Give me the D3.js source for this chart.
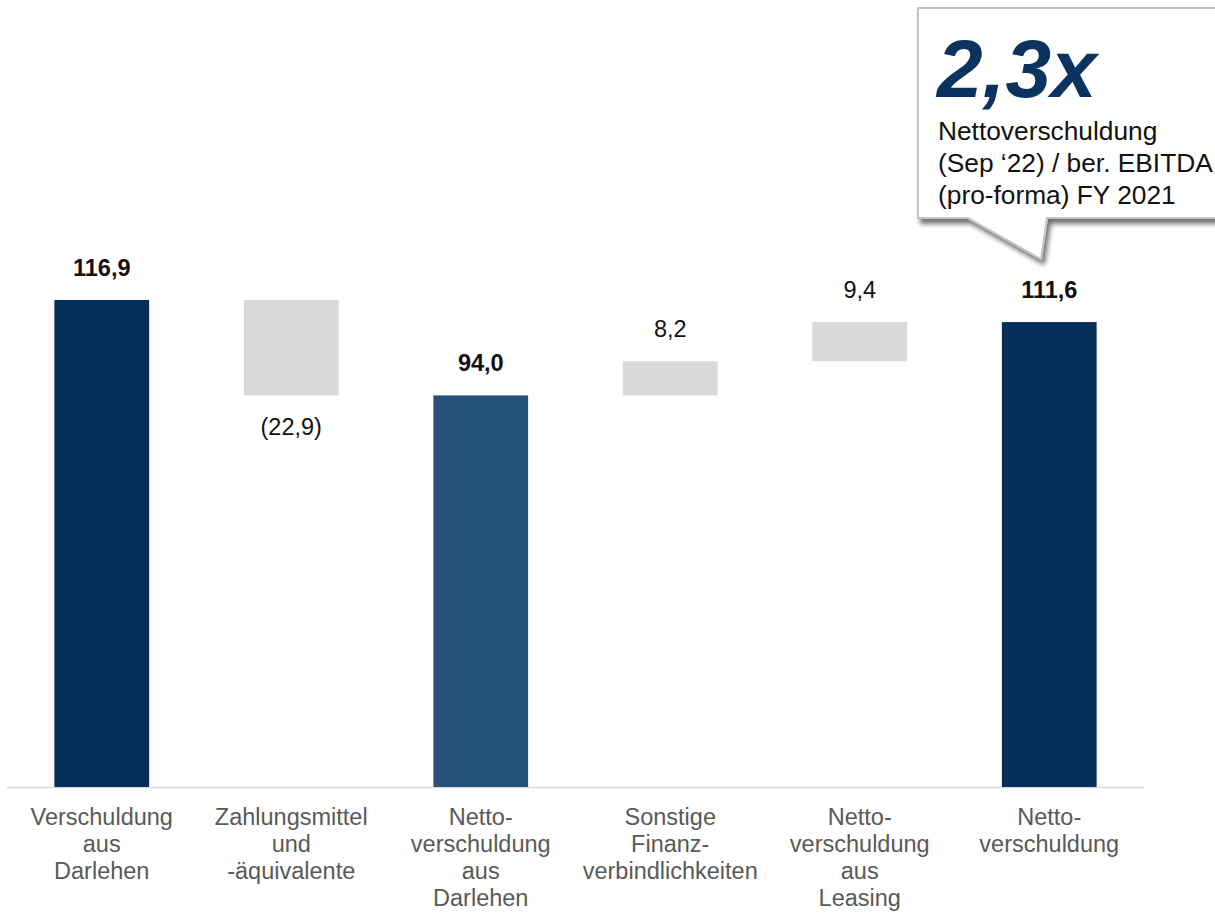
<!DOCTYPE html>
<html>
<head>
<meta charset="utf-8">
<script src="https://cdn.jsdelivr.net/npm/d3@7"></script>
<style>
  html, body { margin: 0; padding: 0; background: #fff; }
  svg { display: block; font-family: "Liberation Sans", Arial, sans-serif; }
</style>
</head>
<body>
<div id="chart"></div>
<script>
// data
const categories = [
  ["Verschuldung", "aus", "Darlehen"],
  ["Zahlungsmittel", "und", "-äquivalente"],
  ["Netto-", "verschuldung", "aus", "Darlehen"],
  ["Sonstige", "Finanz-", "verbindlichkeiten"],
  ["Netto-", "verschuldung", "aus", "Leasing"],
  ["Netto-", "verschuldung"]
];
const values = [116.9, -22.9, 94.0, 8.2, 9.4, 111.6];
const kinds = ["total", "delta", "total", "delta", "delta", "total"];
const valueLabels = ["116,9", "(22,9)", "94,0", "8,2", "9,4", "111,6"];
const calloutBig = "2,3x";
const calloutLines = ["Nettoverschuldung", "(Sep ‘22) / ber. EBITDA", "(pro-forma) FY 2021"];

(() => {
  const W = 1215, H = 916;
  const baseY = 787;
  const svg = d3.select("#chart").append("svg").attr("width", W).attr("height", H);

  const x = d3.scaleBand().domain(d3.range(categories.length)).range([7, 1144])
    .paddingInner(0.5).paddingOuter(0.25);
  const y = d3.scaleLinear().domain([0, 116.9]).range([baseY, 300]);

  // build waterfall segments
  let running = 0;
  const bars = values.map((v, i) => {
    let lo, hi;
    if (kinds[i] === "total") { lo = 0; hi = v; running = v; }
    else { lo = Math.min(running, running + v); hi = Math.max(running, running + v); running += v; }
    return { i, v, lo, hi, kind: kinds[i], label: valueLabels[i] };
  });
  const colors = ["#052f5a", "#d9d9d9", "#27537a", "#d9d9d9", "#d9d9d9", "#052f5a"];

  // baseline
  svg.append("line")
    .attr("x1", 7).attr("x2", 1144).attr("y1", baseY + 0.5).attr("y2", baseY + 0.5)
    .attr("stroke", "#d9d9d9").attr("stroke-width", 1.5);

  svg.append("g").selectAll("rect")
    .data(bars)
    .join("rect")
    .attr("x", d => x(d.i))
    .attr("width", x.bandwidth())
    .attr("y", d => y(d.hi))
    .attr("height", d => y(d.lo) - y(d.hi))
    .attr("fill", d => colors[d.i]);

  // value labels
  svg.append("g").selectAll("text")
    .data(bars)
    .join("text")
    .attr("x", d => x(d.i) + x.bandwidth() / 2)
    .attr("y", d => d.v < 0 ? y(d.lo) + 40 : y(d.hi) - 24)
    .attr("text-anchor", "middle")
    .attr("font-size", 23.5)
    .attr("font-weight", d => d.kind === "total" ? "bold" : "normal")
    .attr("fill", "#111")
    .text(d => d.label);

  // category labels
  const cat = svg.append("g").selectAll("text")
    .data(categories)
    .join("text")
    .attr("text-anchor", "middle")
    .attr("font-size", 23.5)
    .attr("fill", "#595959");
  cat.each(function(lines, i) {
    d3.select(this).selectAll("tspan")
      .data(lines)
      .join("tspan")
      .attr("x", x(i) + x.bandwidth() / 2)
      .attr("y", (l, j) => 825 + j * 27)
      .text(l => l);
  });

  // callout box
  const defs = svg.append("defs");
  const f = defs.append("filter").attr("id", "shadow").attr("x", "-10%").attr("y", "-10%")
    .attr("width", "130%").attr("height", "140%");
  f.append("feGaussianBlur").attr("in", "SourceAlpha").attr("stdDeviation", 2.5).attr("result", "b");
  f.append("feOffset").attr("in", "b").attr("dx", 3).attr("dy", 5).attr("result", "o");
  f.append("feComponentTransfer").attr("in", "o").attr("result", "s")
    .append("feFuncA").attr("type", "linear").attr("slope", 0.55);
  const fm = f.append("feMerge");
  fm.append("feMergeNode").attr("in", "s");
  fm.append("feMergeNode").attr("in", "SourceGraphic");

  const bx0 = 918, by0 = 8, bx1 = 1230, by1 = 218;
  const tail = [[968, by1], [1041, 259], [1047, by1]];
  const path = d3.path();
  path.moveTo(bx0, by0);
  path.lineTo(bx1, by0);
  path.lineTo(bx1, by1);
  path.lineTo(tail[2][0], tail[2][1]);
  path.lineTo(tail[1][0], tail[1][1]);
  path.lineTo(tail[0][0], tail[0][1]);
  path.lineTo(bx0, by1);
  path.closePath();
  svg.append("path").attr("d", path.toString())
    .attr("fill", "#fff").attr("stroke", "#c4c4c4").attr("stroke-width", 2)
    .attr("filter", "url(#shadow)");

  svg.append("text")
    .attr("x", 937).attr("y", 97)
    .attr("font-size", 82).attr("font-weight", "bold").attr("font-style", "italic")
    .attr("fill", "#0a3360")
    .text(calloutBig);

  svg.append("g").selectAll("text")
    .data(calloutLines)
    .join("text")
    .attr("x", 938)
    .attr("y", (d, i) => 140 + i * 32)
    .attr("font-size", 26.3)
    .attr("fill", "#111")
    .text(d => d);
})();
</script>
</body>
</html>
